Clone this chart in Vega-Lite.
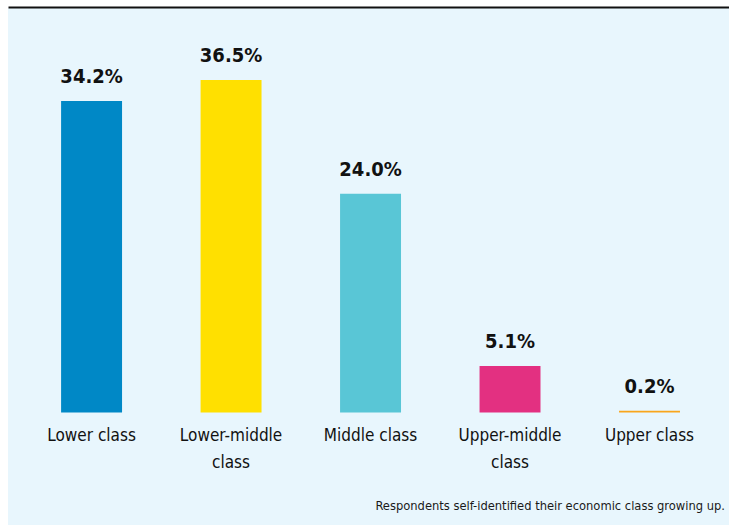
{
  "$schema": "https://vega.github.io/schema/vega-lite/v6.json",
  "width": 721,
  "height": 517,
  "autosize": "none",
  "padding": {"left": 8, "top": 8, "right": 0, "bottom": 0},
  "background": "white",
  "config": {"view": {"fill": "#e8f6fd", "stroke": null}},
  "title": {
    "text": "Respondents self-identified their economic class growing up.",
    "orient": "bottom",
    "anchor": "end",
    "frame": "group",
    "offset": -15,
    "baseline": "alphabetic",
    "font": "DejaVu Sans Condensed, Roboto, sans-serif",
    "fontSize": 12.8,
    "fontWeight": "normal",
    "color": "#1a1a1a",
    "dx": -4
  },
  "data": {
    "values": [
      {"class": "Lower class", "value": 34.2, "label": "34.2%"},
      {"class": "Lower-middle class", "value": 36.5, "label": "36.5%"},
      {"class": "Middle class", "value": 24.0, "label": "24.0%"},
      {"class": "Upper-middle class", "value": 5.1, "label": "5.1%"},
      {"class": "Upper class", "value": 0.2, "label": "0.2%"}
    ]
  },
  "resolve": {"axis": {"x": "independent"}},
  "layer": [
    {
      "mark": {"type": "bar"},
      "encoding": {
        "x": {
          "field": "class", "type": "nominal", "sort": null,
          "scale": {"paddingInner": 0.563, "paddingOuter": 0.366, "align": 0.52},
          "axis": {"orient": "top", "labels": false, "ticks": false, "title": null, "domain": true, "domainColor": "#111111", "domainWidth": 2, "offset": 1, "grid": false}
        },
        "y": {"field": "value", "type": "quantitative", "scale": {"domain": [-12.35, 44.4], "nice": false, "zero": false}, "axis": null},
        "y2": {"datum": 0},
        "color": {
          "field": "class", "type": "nominal", "sort": null, "legend": null,
          "scale": {"domain": ["Lower class", "Lower-middle class", "Middle class", "Upper-middle class", "Upper class"],
                    "range": ["#0088c6", "#ffe000", "#59c6d6", "#e33081", "#f9a61c"]}
        }
      }
    },
    {
      "mark": {"type": "text", "baseline": "alphabetic", "dy": -18, "font": "DejaVu Sans Condensed, Roboto, sans-serif", "fontWeight": "bold", "fontSize": 20, "color": "#111111"},
      "encoding": {
        "x": {
          "field": "class", "type": "nominal", "sort": null,
          "axis": {
            "orient": "bottom", "offset": -112.5, "domain": false, "ticks": false, "grid": false, "title": null,
            "labelAngle": 0, "labelFont": "DejaVu Sans Condensed, Roboto, sans-serif", "labelFontSize": 17, "labelColor": "#111111",
            "labelBaseline": "alphabetic", "labelPadding": 28, "labelLineHeight": 27, "labelLimit": 0,
            "labelExpr": "datum.label == 'Lower-middle class' ? ['Lower-middle', 'class'] : datum.label == 'Upper-middle class' ? ['Upper-middle', 'class'] : datum.label"
          }
        },
        "y": {"field": "value", "type": "quantitative"},
        "text": {"field": "label"}
      }
    }
  ]
}
